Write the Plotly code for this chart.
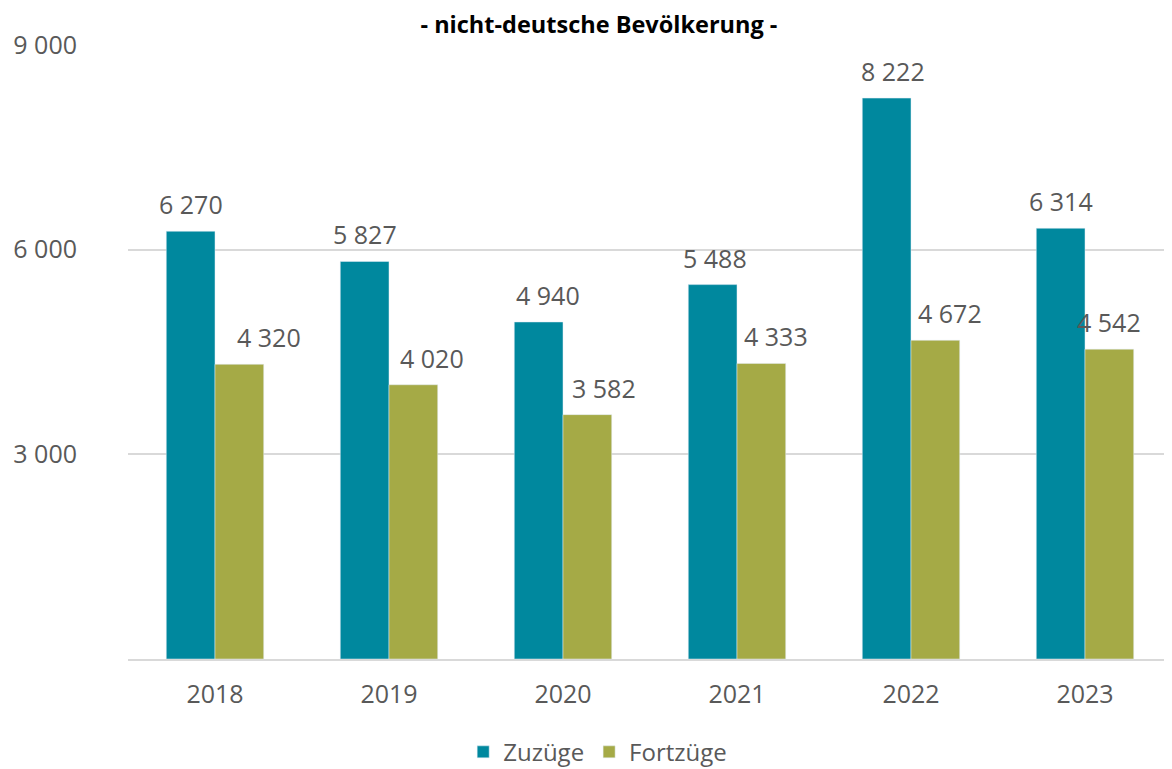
import plotly.graph_objects as go

years = ["2018", "2019", "2020", "2021", "2022", "2023"]
zuzuege = [6270, 5827, 4940, 5488, 8222, 6314]
fortzuege = [4320, 4020, 3582, 4333, 4672, 4542]
y_ticks = [0, 3000, 6000, 9000]
y_tick_text = ["", "3 000", "6 000", "9 000"]

# label nudges (pixels), as placed in the original
zu_label_dx = [0, 0, 9, 2, 6, 0]
fort_label_dx = [30, 19, 17, 15, 15, 0]

teal = "#00889E"
olive = "#A5AA46"
gray = "#595959"
font_family = "Open Sans"
fs = 25

fig = go.Figure()
fig.add_trace(go.Bar(x=years, y=zuzuege, name="Zuzüge", marker_color=teal))
fig.add_trace(go.Bar(x=years, y=fortzuege, name="Fortzüge", marker_color=olive))

half = 0.14
for i in range(len(years)):
    for val, off, dx in ((zuzuege[i], -half, zu_label_dx[i]), (fortzuege[i], half, fort_label_dx[i])):
        fig.add_annotation(x=i + off, y=val, xref="x", yref="y",
                           text=f"{val:,}".replace(",", " "),
                           showarrow=False, yanchor="bottom", yshift=8, xshift=dx,
                           font=dict(size=fs, color=gray, family=font_family))

# page body has an 8px margin: figure sized/offset to compensate
fig.update_layout(
    width=1164, height=761,
    separators=", ",
    barmode="group", bargap=0.44, bargroupgap=0,
    plot_bgcolor="white", paper_bgcolor="white",
    margin=dict(l=120, r=0, t=37, b=110),
    font=dict(family=font_family, size=fs, color=gray),
    title=dict(text="<b>- nicht-deutsche Bevölkerung -</b>", x=0.5077, xanchor="center",
               y=0.978, yanchor="middle", font=dict(size=23.5, color="black", family=font_family)),
    legend=dict(orientation="h", xref="container", x=0.5066, xanchor="center",
                yref="container", y=0.022, yanchor="middle",
                font=dict(size=24, color=gray), itemwidth=30),
)
fig.update_xaxes(showgrid=False, showline=True, linecolor="#D9D9D9", linewidth=2,
                 ticks="", tickfont=dict(size=fs, color=gray), ticklabelstandoff=12,
                 automargin=False)
fig.update_yaxes(range=[0, 9000], tickvals=y_ticks, ticktext=y_tick_text,
                 showgrid=True, gridcolor="#D9D9D9", gridwidth=1.5, zeroline=False,
                 showline=False, ticks="", tickfont=dict(size=fs, color=gray),
                 ticklabelstandoff=50, automargin=False)

fig.write_html("out.html")
